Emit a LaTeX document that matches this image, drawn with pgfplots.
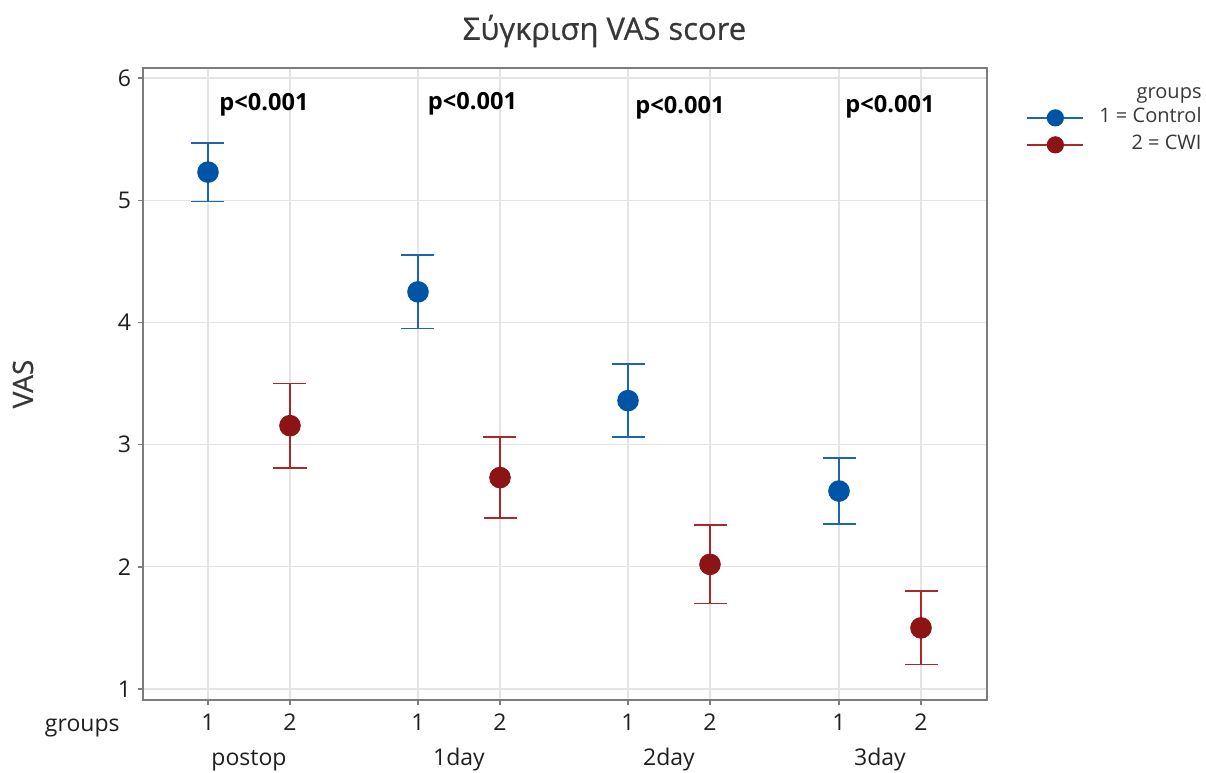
\documentclass[border=0pt]{standalone}
\usepackage{fontspec}
\setmainfont{Open Sans}
\usepackage{pgfplots}
\pgfplotsset{compat=1.18}
\definecolor{cblue}{RGB}{0,84,166}
\definecolor{cred}{RGB}{140,20,20}
\definecolor{lblue}{RGB}{30,100,180}
\definecolor{lred}{RGB}{170,40,40}
\definecolor{gridc}{RGB}{228,228,228}
\definecolor{axc}{RGB}{125,125,125}
\definecolor{txt}{RGB}{30,30,30}
\definecolor{ttl}{RGB}{55,55,55}
\begin{document}
\begin{tikzpicture}
\useasboundingbox (-71.5pt,-36pt) rectangle (531.5pt,350pt);
\begin{axis}[
  scale only axis, width=422pt, height=316pt,
  xmin=143, xmax=987, ymin=0.91, ymax=6.082,
  clip=false,
  xtick={208,290,418,500,628,710,839,921},
  xticklabels={1,2,1,2,1,2,1,2},
  ytick={1,2,3,4,5,6},
  grid=major, major grid style={gridc, line width=0.6pt},
  axis line style={axc, line width=0.7pt},
  tick style={axc, line width=0.7pt},
  tick align=outside, major tick length=2.5pt,
  xtick pos=bottom, ytick pos=left,
  /pgf/number format/assume math mode=true,
  ticklabel style={font=\fontsize{11.5}{13}\selectfont, text=txt},
  xticklabel style={anchor=base, yshift=-13pt},
  yticklabel style={anchor=east},
  title={Σύγκριση VAS score},
  title style={font=\fontsize{15.5}{18}\selectfont\addfontfeature{FakeBold=0.6}, text=ttl, at={(0.5468,1)}, anchor=center, yshift=12.5pt},
  ylabel={VAS},
  ylabel style={font=\fontsize{14}{16}\selectfont\addfontfeature{FakeBold=0.6}, text=ttl, at={(axis description cs:-0.1422,0.5)}, anchor=center},
  legend cell align=right,
  legend style={draw=none, fill=none, inner sep=0pt, at={(1.2547,0.936)}, anchor=north east,
    nodes={inner sep=0pt, text height=7pt, text depth=2pt, font=\fontsize{10}{12}\selectfont, text=ttl},
    row sep=4.5pt, column sep=7.5pt},
  legend image code/.code={\draw[sharp plot, line width=1pt, mark repeat=2, mark phase=2, mark size=3.8pt] plot coordinates {(0pt,0pt) (14pt,0pt) (28pt,0pt)};},
]
\addplot[only marks, mark=*, mark size=5pt, color=lblue, mark options={fill=cblue, draw=cblue},
  line width=0.8pt,
  error bars/.cd, y dir=both, y explicit,
  error bar style={lblue, line width=0.8pt},
  error mark options={lblue, line width=0.8pt, mark size=8.25pt, rotate=90}]
  coordinates {(208,5.23) +- (0,0.24) (418,4.25) +- (0,0.30) (628,3.36) +- (0,0.30) (839,2.62) +- (0,0.27)};
\addlegendentry{1 = Control}
\addplot[only marks, mark=*, mark size=5pt, color=lred, mark options={fill=cred, draw=cred},
  line width=0.8pt,
  error bars/.cd, y dir=both, y explicit,
  error bar style={lred, line width=0.8pt},
  error mark options={lred, line width=0.8pt, mark size=8.25pt, rotate=90}]
  coordinates {(290,3.155) +- (0,0.345) (500,2.73) +- (0,0.33) (710,2.02) +- (0,0.32) (921,1.50) +- (0,0.30)};
\addlegendentry{2 = CWI}
\node[anchor=east, font=\fontsize{10}{12}\selectfont, text=ttl, inner sep=0pt] at (rel axis cs:1.2547,0.957) {groups};
\node[font=\bfseries\fontsize{11.8}{13}\selectfont, text=black] at (axis cs:264,5.779) {p<0.001};
\node[font=\bfseries\fontsize{11.8}{13}\selectfont, text=black] at (axis cs:472.5,5.787) {p<0.001};
\node[font=\bfseries\fontsize{11.8}{13}\selectfont, text=black] at (axis cs:680,5.754) {p<0.001};
\node[font=\bfseries\fontsize{11.8}{13}\selectfont, text=black] at (axis cs:890,5.763) {p<0.001};
\node[anchor=base, font=\fontsize{11.5}{13}\selectfont, text=txt, inner sep=0pt, yshift=-32.5pt] at (axis cs:249,0.91) {postop};
\node[anchor=base, font=\fontsize{11.5}{13}\selectfont, text=txt, inner sep=0pt, yshift=-32.5pt] at (axis cs:459,0.91) {1day};
\node[anchor=base, font=\fontsize{11.5}{13}\selectfont, text=txt, inner sep=0pt, yshift=-32.5pt] at (axis cs:669,0.91) {2day};
\node[anchor=base, font=\fontsize{11.5}{13}\selectfont, text=txt, inner sep=0pt, yshift=-32.5pt] at (axis cs:880,0.91) {3day};
\node[anchor=base east, font=\fontsize{11.5}{13}\selectfont, text=txt, inner sep=0pt, yshift=-16pt] at (axis cs:120,0.91) {groups};
\end{axis}
\end{tikzpicture}
\end{document}
